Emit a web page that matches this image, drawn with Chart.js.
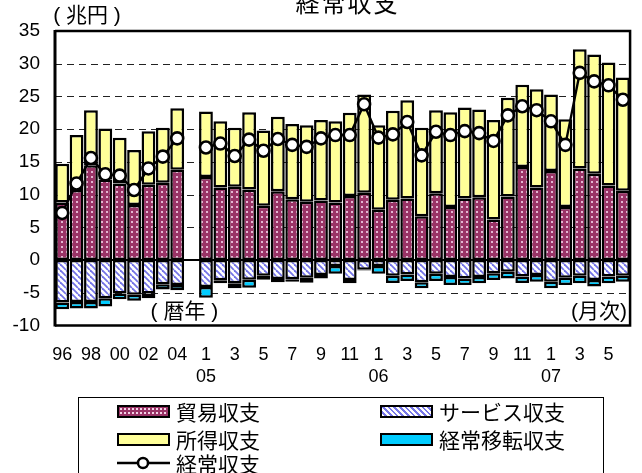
<!DOCTYPE html>
<html>
<head>
<meta charset="utf-8">
<script src="https://cdn.jsdelivr.net/npm/chart.js@4.4.0/dist/chart.umd.min.js"></script>
<style>
html,body{margin:0;padding:0;background:#fff;}
#wrap{position:relative;width:642px;height:473px;overflow:hidden;}
#c{position:absolute;left:0;top:0;}
#legend{position:absolute;left:78px;top:397px;width:526px;height:90px;border:1px solid #000;box-sizing:border-box;
  font-family:"Noto Sans CJK JP",sans-serif;font-size:21px;color:#000;background:#fff;}
.item{position:absolute;display:flex;align-items:center;height:26px;line-height:26px;white-space:nowrap;}
.sw{display:inline-block;width:53px;height:13px;border:2px solid #000;box-sizing:border-box;margin-right:6px;}
.sw.trade{background-color:#993366;background-image:radial-gradient(circle,#f3d3e6 0.9px,transparent 1.3px);background-size:4px 4px;}
.sw.serv{background:repeating-linear-gradient(45deg,#fff 0px,#fff 2px,#7777e8 2px,#7777e8 4px);}
.sw.inc{background:#ffff99;}
.sw.trf{background:#00ccff;}
.ln{display:inline-block;width:53px;height:14px;margin-right:6px;}
</style>
</head>
<body>
<div id="wrap">
<canvas id="c" width="642" height="473"></canvas>
<div id="legend"></div>
</div>
<script>
// ---- data ----
const categories = ['1996','1997','1998','1999','2000','2001','2002','2003','2004','',
 '2005-01','2005-02','2005-03','2005-04','2005-05','2005-06','2005-07','2005-08','2005-09','2005-10','2005-11','2005-12',
 '2006-01','2006-02','2006-03','2006-04','2006-05','2006-06','2006-07','2006-08','2006-09','2006-10','2006-11','2006-12',
 '2007-01','2007-02','2007-03','2007-04','2007-05','2007-06'];
const tickLabels = ['96','','98','','00','','02','','04','',
 '1','','3','','5','','7','','9','','11','',
 '1','','3','','5','','7','','9','','11','',
 '1','','3','','5',''];
const yearLabels = ['','','','','','','','','','',
 '05','','','','','','','','','','','',
 '06','','','','','','','','','','','',
 '07','','','','',''];
const yTicks = [-10,-5,0,5,10,15,20,25,30,35];

const seriesNames = ['貿易収支','サービス収支','所得収支','経常移転収支','経常収支'];

const trade = [8.8,10.7,14.5,12.3,11.7,8.4,11.5,11.8,13.8,null,
 12.7,11.1,11.2,10.8,8.3,10.5,9.3,8.9,9.1,8.8,9.8,10.3,
 7.7,9.2,9.4,6.7,10.2,8.1,9.4,9.6,6.2,9.7,14.2,11.1,
 13.6,8.1,14.0,13.2,11.4,10.6];
const services = [-6.5,-6.4,-6.4,-5.85,-5.1,-5.3,-5.1,-3.7,-3.8,null,
 -4.1,-3.1,-3.55,-3.0,-2.4,-2.9,-2.95,-2.7,-2.3,-0.9,-3.05,-1.5,
 -0.9,-2.4,-2.2,-3.4,-2.1,-2.6,-2.8,-2.6,-2.0,-1.8,-2.5,-2.3,
 -3.3,-2.7,-2.4,-3.05,-2.5,-2.4];
const income = [5.9,8.4,8.4,7.8,7.0,8.4,8.2,8.4,9.4,null,
 10.0,10.1,9.0,11.8,11.5,11.4,11.5,11.7,12.3,12.4,12.7,15.0,
 12.9,13.6,15.0,13.5,12.7,14.5,13.9,13.4,15.2,15.1,12.6,15.0,
 11.7,13.4,18.2,18.2,18.8,17.3];
const transfers = [-1.0,-1.0,-1.0,-1.25,-0.9,-0.9,-0.75,-0.8,-0.8,null,
 -1.65,-0.45,-0.75,-1.25,-0.6,-0.5,-0.35,-0.75,-0.5,-1.2,-0.5,-0.1,
 -1.2,-1.1,-1.0,-0.9,-1.1,-1.2,-1.0,-0.95,-1.05,-1.0,-1.0,-1.0,
 -1.0,-1.1,-1.15,-1.0,-1.05,-0.9];
const current = [7.2,11.7,15.6,13.1,12.9,10.7,14.0,15.8,18.6,null,
 17.2,17.8,15.9,18.4,16.7,18.5,17.6,17.3,18.6,19.1,19.1,23.8,
 18.7,19.2,21.1,16.0,19.6,19.1,19.7,19.4,18.2,22.1,23.5,22.9,
 21.2,17.6,28.6,27.3,26.7,24.5];

// ---- patterns ----
function dotPattern(){
  const c=document.createElement('canvas');c.width=5;c.height=5;
  const x=c.getContext('2d');
  x.fillStyle='#993366';x.fillRect(0,0,5,5);
  x.fillStyle='#e4b6d2';x.fillRect(1,1,2,2);
  return x.createPattern(c,'repeat');
}
function hatchPattern(){
  const c=document.createElement('canvas');c.width=6;c.height=6;
  const x=c.getContext('2d');
  x.fillStyle='#fff';x.fillRect(0,0,6,6);
  x.strokeStyle='#7373e6';x.lineWidth=1.8;
  for(const k of [-6,0,6]){x.beginPath();x.moveTo(k,0);x.lineTo(k+6,6);x.stroke();}
  return x.createPattern(c,'repeat');
}
const ctx0=document.getElementById('c').getContext('2d');
const tradeFill=dotPattern(), servFill=hatchPattern();

const CJK='"Noto Sans CJK JP"';
const NUM='"Liberation Sans", Arial';

const decor = {
  id:'decor',
  beforeDatasetsDraw(chart){
    const {ctx,chartArea:a,scales:{y}}=chart;
    ctx.save();
    ctx.strokeStyle='#222';ctx.lineWidth=1;ctx.setLineDash([7,5]);
    for(const v of yTicks){
      if(v===0||v===-10||v===35) continue;
      const py=Math.round(y.getPixelForValue(v))+0.5;
      ctx.beginPath();ctx.moveTo(a.left,py);ctx.lineTo(a.right,py);ctx.stroke();
    }
    ctx.setLineDash([]);ctx.strokeStyle='#000';ctx.lineWidth=2;
    const p0=y.getPixelForValue(0);
    ctx.beginPath();ctx.moveTo(a.left,p0);ctx.lineTo(a.right,p0);ctx.stroke();
    ctx.restore();
  },
  afterDraw(chart){
    const {ctx,chartArea:a,scales:{x,y}}=chart;
    ctx.save();
    ctx.strokeStyle='#000';
    ctx.lineWidth=2.5;
    ctx.beginPath();ctx.moveTo(a.left,a.top);ctx.lineTo(a.right,a.top);ctx.lineTo(a.right,a.bottom);ctx.lineTo(a.left,a.bottom);ctx.stroke();
    ctx.lineWidth=3;
    ctx.beginPath();ctx.moveTo(a.left,a.top-1);ctx.lineTo(a.left,a.bottom+1);ctx.stroke();
    ctx.fillStyle='#000';
    // title
    ctx.font='24px '+CJK;ctx.textAlign='center';ctx.textBaseline='alphabetic';
    ctx.letterSpacing='2px';
    ctx.fillText('経常収支',(a.left+a.right)/2+5,12);
    ctx.letterSpacing='0px';
    // unit
    ctx.font='21px '+NUM+', '+CJK;ctx.textBaseline='middle';
    ctx.fillText('( 兆円 )',87,16);
    // annotations
    const pm=y.getPixelForValue(-8.0);
    ctx.fillText('( 暦年 )',(x.getPixelForValue(8)+x.getPixelForValue(9))/2,pm);
    ctx.textAlign='right';
    ctx.fillText('(月次)',a.right-3,pm);
    ctx.restore();
  }
};

const chart = new Chart(ctx0,{
  data:{
    labels:categories,
    datasets:[
      {type:'line',label:seriesNames[4],data:current,borderColor:'#000',borderWidth:2.4,
       pointRadius:6,pointHoverRadius:6,pointBorderWidth:2.6,pointBackgroundColor:'#fff',pointBorderColor:'#000',
       spanGaps:false,tension:0,stack:'ca',order:0},
      {type:'bar',label:seriesNames[0],data:trade,backgroundColor:tradeFill,stack:'bal',order:1},
      {type:'bar',label:seriesNames[1],data:services,backgroundColor:servFill,stack:'bal',order:1},
      {type:'bar',label:seriesNames[2],data:income,backgroundColor:'#ffff99',stack:'bal',order:1},
      {type:'bar',label:seriesNames[3],data:transfers,backgroundColor:'#00ccff',stack:'bal',order:1}
    ]
  },
  options:{
    responsive:false,animation:false,
    layout:{padding:{top:31,right:7,bottom:87.5,left:0}},
    datasets:{bar:{borderColor:'#000',borderWidth:2.5,borderSkipped:false,barPercentage:0.96,categoryPercentage:1}},
    plugins:{legend:{display:false},title:{display:false},tooltip:{enabled:false}},
    scales:{
      x:{stacked:true,offset:true,
         grid:{display:false,drawTicks:false},border:{display:false},
         ticks:{autoSkip:false,maxRotation:0,minRotation:0,padding:19,color:'#000',
           font:{family:NUM,size:18,lineHeight:1.2},
           callback:(v,i)=> yearLabels[i] ? [tickLabels[i],yearLabels[i]] : tickLabels[i]},
         afterFit:s=>{s.height=60;}},
      y:{stacked:true,min:-10,max:35,
         grid:{display:false,drawTicks:false},border:{display:false},
         ticks:{stepSize:5,padding:15,color:'#000',font:{family:NUM,size:19}},
         afterFit:s=>{s.width=55;}}
    }
  },
  plugins:[decor]
});

// ---- legend (HTML, from dataset labels) ----
const leg=document.getElementById('legend');
const legItems=[
  {name:seriesNames[0],cls:'trade',l:38,t:0},
  {name:seriesNames[1],cls:'serv',l:301,t:0},
  {name:seriesNames[2],cls:'inc',l:38,t:28},
  {name:seriesNames[3],cls:'trf',l:301,t:28},
  {name:seriesNames[4],cls:'line',l:38,t:52}
];
for(const it of legItems){
  const d=document.createElement('div');d.className='item';d.style.left=it.l+'px';d.style.top=it.t+'px';
  if(it.cls==='line'){
    d.innerHTML='<svg class="ln" width="53" height="14"><line x1="0" y1="7" x2="53" y2="7" stroke="#000" stroke-width="2.5"/><circle cx="26" cy="7" r="5" fill="#fff" stroke="#000" stroke-width="2.5"/></svg>';
  } else {
    d.innerHTML='<span class="sw '+it.cls+'"></span>';
  }
  d.appendChild(document.createTextNode(it.name));
  leg.appendChild(d);
}
</script>
</body>
</html>
